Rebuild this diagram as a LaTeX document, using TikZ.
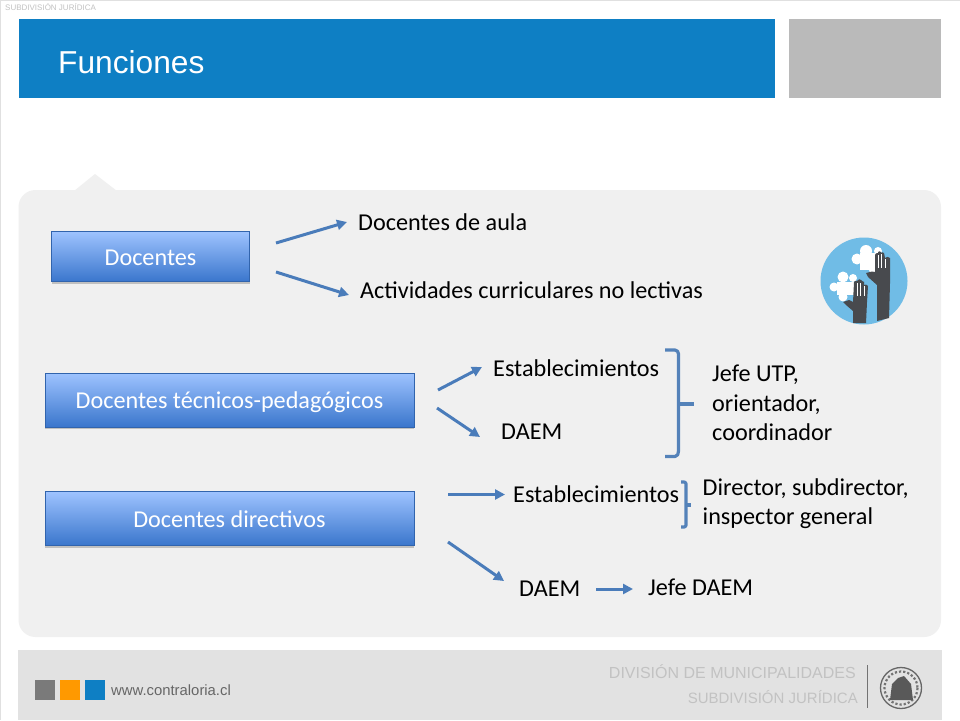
\documentclass[tikz,border=0pt]{standalone}
\usepackage{fontspec}
\setmainfont{Carlito}
\newfontfamily\arialf{Liberation Sans}
\usetikzlibrary{arrows.meta,shadows,calc}
\definecolor{hdr}{RGB}{14,127,196}
\definecolor{panel}{RGB}{240,240,240}
\definecolor{foot}{RGB}{226,226,226}
\definecolor{arrowc}{RGB}{74,124,186}
\definecolor{brc}{RGB}{84,130,185}
\definecolor{boxt}{RGB}{158,195,255}
\definecolor{boxb}{RGB}{58,118,204}
\definecolor{hand}{RGB}{72,74,78}
\definecolor{sky}{RGB}{112,188,230}
\tikzset{
 x=1pt,y=-1pt,
 bluebox/.style={draw=boxb!85!black,line width=0.6pt,top color=boxt,bottom color=boxb,text=white,font=\fontsize{24.2}{28}\selectfont,inner sep=0pt,text height=20pt,text depth=3pt,
   general shadow={fill=black!40,shadow xshift=0pt,shadow yshift=-2.2pt,opacity=0.55}},
 lbl/.style={text=black,font=\fontsize{24.2}{29.5}\selectfont,inner sep=0pt,anchor=west},
 conn/.style={draw=arrowc,line width=3pt,-{Triangle[length=10pt,width=10pt]}},
 brace/.style={draw=brc,line width=3.2pt,line join=round},
 soft/.style={text=black!24,inner sep=0pt},
 finger/.style={draw=white,line width=0.9pt},
}
\begin{document}
\begin{tikzpicture}
\useasboundingbox (0,0) rectangle (960,720);
\fill[white] (0,0) rectangle (960,720);
\draw[black!12,line width=1pt] (0.5,720) -- (0.5,0.5) -- (960,0.5);
\node[soft,anchor=west,font=\arialf\fontsize{8}{10}\selectfont] (sub) at (5,7) {SUBDIVISIÓN JURÍDICA};
\fill[hdr] (18.5,19) rectangle (775,98);
\fill[black!27] (788.5,19) rectangle (941,98);
\node[text=white,anchor=west,inner sep=0pt,font=\arialf\fontsize{31.7}{36}\selectfont] (title) at (58,62) {Funciones};
% panel
\fill[panel,rounded corners=17pt] (18.5,190) rectangle (941,637);
\fill[panel] (74,191) -- (95,174) -- (117,191) -- cycle;
% boxes
\node[bluebox,minimum width=198pt,minimum height=50pt] (d1) at (150.5,256.5) {Docentes};
\node[bluebox,minimum width=369pt,minimum height=54pt] (d2) at (229.5,400) {Docentes técnicos-pedagógicos};
\node[bluebox,minimum width=369pt,minimum height=54pt] (d3) at (229.5,518.5) {Docentes directivos};
% labels
\node[lbl] (a1) at (358,222) {Docentes de aula};
\node[lbl] (a2) at (360,290) {Actividades curriculares no lectivas};
\node[lbl] (b1) at (493,368) {Establecimientos};
\node[lbl] (b2) at (501,432) {DAEM};
\node[lbl,align=left] (b3) at (712,403) {Jefe UTP,\\orientador,\\coordinador};
\node[lbl] (c1) at (513,494) {Establecimientos};
\node[lbl,align=left] (c2) at (702.5,503.5) {Director, subdirector,\\inspector general};
\node[lbl] (c3) at (519,588.5) {DAEM};
\node[lbl] (c4) at (648,587) {Jefe DAEM};
% connector ends
\coordinate (s1) at (276,243); \coordinate (e1) at (347,222);
\coordinate (s2) at (276,272); \coordinate (e2) at (349,295);
\coordinate (s3) at (438,390); \coordinate (e3) at (482,367);
\coordinate (s4) at (437,408); \coordinate (e4) at (480,437);
\coordinate (s5) at (448,494.5); \coordinate (e5) at (505,494.5);
\coordinate (s6) at (448,542); \coordinate (e6) at (504,581);
\coordinate (s7) at (596,589); \coordinate (e7) at (633,589);
\draw[conn] (s1) -- (e1);
\draw[conn] (s2) -- (e2);
\draw[conn] (s3) -- (e3);
\draw[conn] (s4) -- (e4);
\draw[conn] (s5) -- (e5);
\draw[conn] (s6) -- (e6);
\draw[conn] (s7) -- (e7);
% braces
\draw[brace] (665,350) -- (675,350) to[out=0,in=90] (678.5,354) -- (678.5,451) to[out=-90,in=0] (675,456.5) -- (665,456.5);
\draw[brace] (678.5,404) -- (694,404);
\draw[brace] (681,482) -- (684,482) to[out=0,in=90] (686,484) -- (686,525) to[out=-90,in=0] (684,527) -- (681,527);
\draw[brace] (686,505) -- (691,505);
% icon
\fill[sky] (864,281) circle (43.5);
\fill[white] (860,253) rectangle (880,270);
\fill[white] (866,251) circle (6) (857,259) circle (5.5) (878,251) circle (4) (873,270) circle (4);
\fill[white] (837,282) rectangle (855,295);
\fill[white] (843,277) circle (5.5) (834,287) circle (4.5) (853,278) circle (4) (843,297) circle (4.5) (857,288) circle (4);
\fill[hand] (877,321) -- (877,285) -- (868,277) -- (866,273) -- (872,271.5) -- (875,272) -- (875,255) to[bend left=50] (878,253) -- (878,252) to[bend left=50] (881,252) -- (881,253) to[bend left=50] (884,253) -- (885,258) to[bend left=50] (890,258) -- (890,283) -- (889,318) -- cycle;
\draw[finger] (878.5,255) -- (878.5,268);
\draw[finger] (881.5,254) -- (881.5,268);
\draw[finger] (885.2,259) -- (885.2,268);
\fill[hand] (853,323) -- (853,311) -- (846,305) -- (843,302) -- (849,300) -- (853,302) -- (854,282) to[bend left=50] (857,281) -- (858,280) to[bend left=50] (861,280) -- (862,281) to[bend left=50] (864,282) -- (864,285) to[bend left=50] (868,286) -- (867,302) -- (866,323) -- cycle;
\draw[finger] (857,283) -- (857,296);
\draw[finger] (860.8,283) -- (860.8,296);
\draw[finger] (864.3,286) -- (864.3,296);
% footer
\fill[foot] (18,650) rectangle (942,720);
\fill[black!52] (35,680) rectangle (55,700);
\fill[orange!80!yellow] (60,680) rectangle (80,700);
\fill[hdr] (85,680) rectangle (105,700);
\node[anchor=west,inner sep=0pt,text=black!60,font=\arialf\fontsize{14.85}{17}\selectfont] (web) at (111,690) {www.contraloria.cl};
\node[soft,anchor=east,font=\arialf\fontsize{16}{19}\selectfont] (f1) at (856,672) {DIVISIÓN DE MUNICIPALIDADES};
\node[soft,anchor=east,font=\arialf\fontsize{15}{19}\selectfont] (f2) at (858,697) {SUBDIVISIÓN JURÍDICA};
\draw[black!55,line width=0.8pt] (867,665) -- (867,708);
\draw[black!60,fill=foot,line width=1.3pt] (901,688) circle (20.5);
\draw[black!55,line width=2.2pt,dotted] (901,688) circle (16.5);
\fill[black!65] (890,700) -- (892,684) -- (898,678) -- (904,676) -- (911,684) -- (913,700) -- cycle;
\end{tikzpicture}
\end{document}
